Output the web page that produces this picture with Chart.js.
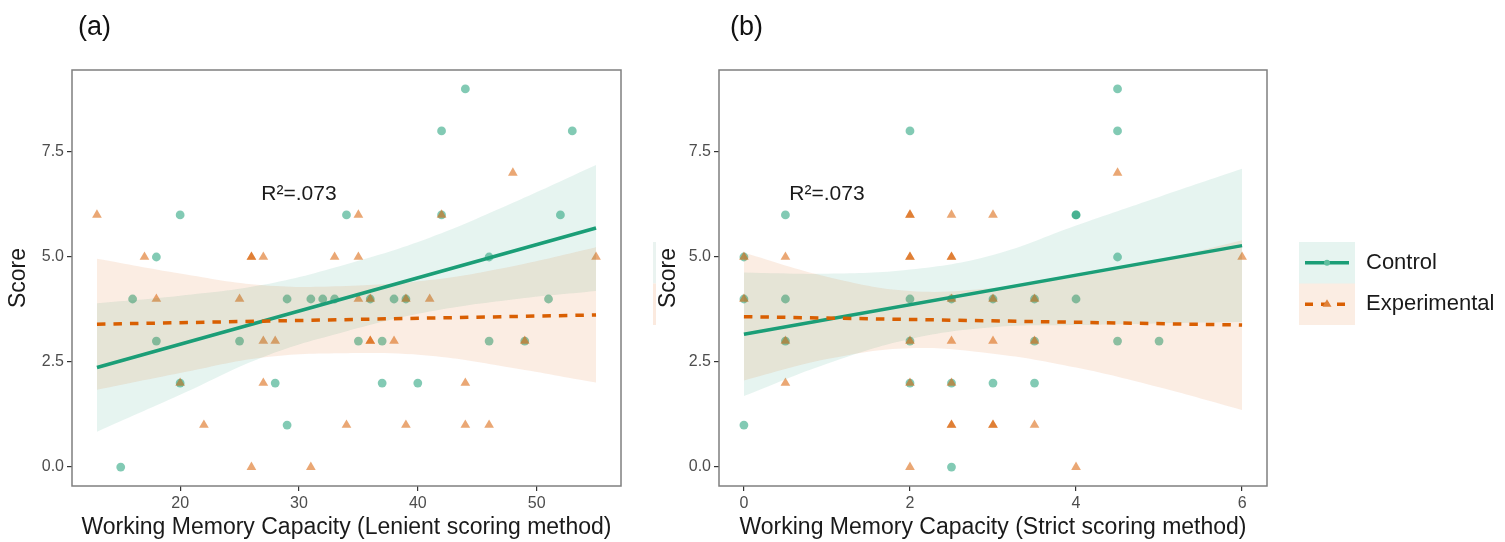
<!DOCTYPE html>
<html>
<head>
<meta charset="utf-8">
<title>Score by Working Memory Capacity</title>
<script src="https://cdn.jsdelivr.net/npm/chart.js@4.4.1/dist/chart.umd.min.js"></script>
<style>
  html, body { margin: 0; padding: 0; background: #fff; }
  #wrap { position: relative; width: 1505px; height: 542px; }
  #wrap canvas { position: absolute; top: 0; }
  #chart-a { left: 0; }
  #chart-b { left: 650px; }
</style>
</head>
<body>
<div id="wrap">
  <canvas id="chart-a" width="650" height="542"></canvas>
  <canvas id="chart-b" width="855" height="542"></canvas>
</div>
<script>
// Score vs working memory capacity, lenient (a) and strict (b) scoring

const groups = ['Control', 'Experimental'];
const scoreTicks = [0, 2.5, 5, 7.5];
const lenientTicks = [20, 30, 40, 50];
const strictTicks = [0, 2, 4, 6];
const r2Label = 'R\u00b2=.073';

// participants as [capacity, score]
const controlLenient = [
    [44, 9], [42, 8], [53, 8], [20, 6], [34, 6], [42, 6], [52, 6], [18, 5], [46, 5],
    [16, 4], [29, 4], [31, 4], [32, 4], [33, 4], [36, 4], [38, 4], [39, 4], [51, 4],
    [18, 3], [25, 3], [35, 3], [37, 3], [46, 3], [49, 3],
    [20, 2], [28, 2], [37, 2], [40, 2], [29, 1], [15, 0]
];
const experimentalLenient = [
    [48, 7], [13, 6], [35, 6], [42, 6],
    [17, 5], [26, 5], [26, 5], [27, 5], [33, 5], [35, 5], [55, 5],
    [18, 4], [25, 4], [35, 4], [36, 4], [39, 4], [41, 4],
    [27, 3], [28, 3], [36, 3], [36, 3], [38, 3], [49, 3],
    [20, 2], [27, 2], [44, 2],
    [22, 1], [34, 1], [39, 1], [44, 1], [46, 1], [26, 0], [31, 0]
];
const controlStrict = [
    [4.5, 9], [2, 8], [4.5, 8], [0.5, 6], [4, 6], [4, 6], [0, 5], [4.5, 5],
    [0, 4], [0.5, 4], [2, 4], [2.5, 4], [3, 4], [3.5, 4], [4, 4],
    [0.5, 3], [2, 3], [3.5, 3], [4.5, 3], [5, 3],
    [2, 2], [2.5, 2], [3, 2], [3.5, 2], [0, 1], [2.5, 0]
];
const experimentalStrict = [
    [4.5, 7], [2, 6], [2, 6], [2.5, 6], [3, 6],
    [0, 5], [0.5, 5], [2, 5], [2, 5], [2.5, 5], [2.5, 5], [6, 5],
    [0, 4], [2.5, 4], [3, 4], [3.5, 4],
    [0.5, 3], [2, 3], [2.5, 3], [3, 3], [3.5, 3],
    [0.5, 2], [2, 2], [2.5, 2],
    [2.5, 1], [2.5, 1], [3, 1], [3, 1], [3.5, 1], [2, 0], [4, 0]
];

// fitted lines (ends of the data range)
const lenientFitX = [13, 55];
const controlLenientFit = [2.37, 5.69];
const experimentalLenientFit = [3.40, 3.62];
const strictFitX = [0, 6];
const controlStrictFit = [3.16, 5.27];
const experimentalStrictFit = [3.58, 3.38];

// confidence bands around the fits
const lenientBandX = [13, 20, 27, 34, 41, 48, 55];
const controlLenientUpper = [3.90, 4.08, 4.34, 4.83, 5.46, 6.29, 7.19];
const controlLenientLower = [0.84, 1.72, 2.62, 3.23, 3.70, 3.99, 4.19];
const experimentalLenientUpper = [4.96, 4.61, 4.33, 4.31, 4.45, 4.78, 5.23];
const experimentalLenientLower = [1.84, 2.24, 2.61, 2.71, 2.65, 2.36, 2.01];
const strictBandX = [0, 1, 2, 3, 4, 5, 6];
const controlStrictUpper = [4.63, 4.60, 4.70, 5.05, 5.75, 6.43, 7.10];
const controlStrictLower = [1.69, 2.46, 3.05, 3.33, 3.38, 3.42, 3.45];
const experimentalStrictUpper = [5.10, 4.53, 4.19, 4.26, 4.53, 4.92, 5.40];
const experimentalStrictLower = [2.06, 2.57, 2.83, 2.70, 2.37, 1.90, 1.36];

const GREEN = '#1b9e77';
const ORANGE = '#d95f02';
const GREEN_PT = 'rgba(27, 158, 119, 0.55)';
const ORANGE_PT = 'rgba(217, 95, 2, 0.55)';
const GREEN_BAND = 'rgba(27, 158, 119, 0.11)';
const ORANGE_BAND = 'rgba(217, 95, 2, 0.11)';
const FONT = '"Liberation Sans", Arial, Helvetica, sans-serif';

Chart.defaults.font.family = FONT;

const toPoints = arr => arr.map(p => ({ x: p[0], y: p[1] }));
const zip = (xs, ys) => xs.map((x, i) => ({ x: x, y: ys[i] }));

function bandPair(xs, lower, upper, fillColor, order) {
    const base = {
        type: 'line', pointRadius: 0, borderWidth: 0,
        borderColor: 'rgba(0,0,0,0)', tension: 0.4, order: order
    };
    return [
        Object.assign({}, base, { data: zip(xs, lower), fill: false }),
        Object.assign({}, base, { data: zip(xs, upper), fill: '-1', backgroundColor: fillColor })
    ];
}

// panel frame, letter and R² note
const panelPlugin = {
    id: 'panelDecor',
    afterDraw(chart) {
        const opts = chart.options.plugins.panelDecor;
        const a = chart.chartArea;
        const ctx = chart.ctx;
        ctx.save();
        ctx.strokeStyle = '#7f7f7f';
        ctx.lineWidth = 1.5;
        ctx.strokeRect(a.left, a.top, a.right - a.left, a.bottom - a.top);

        ctx.fillStyle = '#111';
        ctx.textBaseline = 'middle';
        ctx.textAlign = 'left';
        ctx.font = '27px ' + FONT;
        ctx.fillText(opts.letter, opts.letterX, 28);

        ctx.textAlign = 'center';
        ctx.font = '21px ' + FONT;
        ctx.fillStyle = '#1a1a1a';
        ctx.fillText(r2Label, chart.scales.x.getPixelForValue(opts.noteX),
            chart.scales.y.getPixelForValue(opts.noteY));

        if (opts.legend) drawLegend(ctx, opts.legend);
        ctx.restore();
    }
};

function drawLegend(ctx, lg) {
    const x = lg.x, y = lg.y, w = 56, h = 41.5;
    // faint strip left of panel (b)
    ctx.fillStyle = '#eaf3f0';
    ctx.fillRect(3, y, 3, h);
    ctx.fillStyle = '#fbeadf';
    ctx.fillRect(3, y + h, 3, h);

    ctx.fillStyle = GREEN_BAND;
    ctx.fillRect(x, y, w, h);
    ctx.fillStyle = ORANGE_BAND;
    ctx.fillRect(x, y + h, w, h);

    const cy1 = y + h / 2, cy2 = y + h * 1.5;
    ctx.lineWidth = 3.5;
    ctx.strokeStyle = GREEN;
    ctx.beginPath();
    ctx.moveTo(x + 6, cy1); ctx.lineTo(x + w - 6, cy1);
    ctx.stroke();
    ctx.fillStyle = '#5fbf9f';
    ctx.beginPath();
    ctx.arc(x + w / 2, cy1, 3, 0, Math.PI * 2);
    ctx.fill();

    ctx.strokeStyle = ORANGE;
    ctx.setLineDash([8, 8]);
    ctx.beginPath();
    ctx.moveTo(x + 6, cy2); ctx.lineTo(x + w - 6, cy2);
    ctx.stroke();
    ctx.setLineDash([]);
    ctx.fillStyle = '#e0823a';
    ctx.beginPath();
    ctx.moveTo(x + w / 2, cy2 - 5);
    ctx.lineTo(x + w / 2 + 4.5, cy2 + 2.5);
    ctx.lineTo(x + w / 2 - 4.5, cy2 + 2.5);
    ctx.closePath();
    ctx.fill();

    ctx.fillStyle = '#1a1a1a';
    ctx.font = '22px ' + FONT;
    ctx.textAlign = 'left';
    ctx.textBaseline = 'middle';
    ctx.fillText(groups[0], x + w + 11, cy1);
    ctx.fillText(groups[1], x + w + 11, cy2);
}

function buildPanel(id, cfg) {
    const datasets = [
        { label: groups[0], data: toPoints(cfg.control), pointStyle: 'circle', pointRadius: 4.4,
          backgroundColor: GREEN_PT, borderWidth: 0, order: 6 },
        { label: groups[1], data: toPoints(cfg.experimental), pointStyle: 'triangle', pointRadius: 5.6,
          backgroundColor: ORANGE_PT, borderWidth: 0, order: 5 }
    ]
    .concat(bandPair(cfg.bandX, cfg.controlLower, cfg.controlUpper, GREEN_BAND, 4))
    .concat(bandPair(cfg.bandX, cfg.expLower, cfg.expUpper, ORANGE_BAND, 3))
    .concat([
        { type: 'line', data: zip(cfg.fitX, cfg.controlFit), borderColor: GREEN, borderWidth: 3.5,
          pointRadius: 0, fill: false, order: 2 },
        { type: 'line', data: zip(cfg.fitX, cfg.expFit), borderColor: ORANGE, borderWidth: 3.5,
          borderDash: [8.5, 8], pointRadius: 0, fill: false, order: 1 }
    ]);

    const tickGrid = { display: true, drawOnChartArea: false, drawTicks: true, tickLength: 5,
                       color: '#333', lineWidth: 1.2 };

    return new Chart(document.getElementById(id), {
        type: 'scatter',
        data: { datasets: datasets },
        plugins: [panelPlugin],
        options: {
            responsive: false,
            animation: false,
            devicePixelRatio: 1,
            layout: { padding: { top: 70, right: cfg.padRight, left: 0, bottom: 0 } },
            plugins: {
                legend: { display: false },
                tooltip: { enabled: false },
                panelDecor: cfg.decor
            },
            scales: {
                x: {
                    type: 'linear', min: cfg.xMin, max: cfg.xMax,
                    afterBuildTicks: s => { s.ticks = cfg.xTicks.map(v => ({ value: v })); },
                    afterFit: s => { s.height = 56; },
                    grid: tickGrid,
                    border: { display: false },
                    ticks: { color: '#4d4d4d', font: { size: 16 }, padding: 3,
                             maxRotation: 0, autoSkip: false },
                    title: { display: true, text: cfg.xTitle, color: '#1a1a1a',
                             font: { size: 23 }, padding: { top: 0, bottom: 1 } }
                },
                y: {
                    type: 'linear', min: -0.45, max: 9.45,
                    afterBuildTicks: s => { s.ticks = scoreTicks.map(v => ({ value: v })); },
                    afterFit: s => { s.width = cfg.yWidth; },
                    grid: tickGrid,
                    border: { display: false },
                    ticks: { color: '#4d4d4d', font: { size: 16 }, padding: 3,
                             callback: v => Number(v).toFixed(1) },
                    title: { display: true, text: 'Score', color: '#1a1a1a',
                             font: { size: 23 }, padding: { top: 5, bottom: 0 } }
                }
            }
        }
    });
}

document.addEventListener('DOMContentLoaded', function() {
    buildPanel('chart-a', {
        control: controlLenient, experimental: experimentalLenient,
        fitX: lenientFitX, controlFit: controlLenientFit, expFit: experimentalLenientFit,
        bandX: lenientBandX,
        controlUpper: controlLenientUpper, controlLower: controlLenientLower,
        expUpper: experimentalLenientUpper, expLower: experimentalLenientLower,
        xMin: 10.9, xMax: 57.1, xTicks: lenientTicks,
        xTitle: 'Working Memory Capacity (Lenient scoring method)',
        yWidth: 72, padRight: 29,
        decor: { letter: '(a)', letterX: 78, noteX: 30, noteY: 6.5 }
    });

    buildPanel('chart-b', {
        control: controlStrict, experimental: experimentalStrict,
        fitX: strictFitX, controlFit: controlStrictFit, expFit: experimentalStrictFit,
        bandX: strictBandX,
        controlUpper: controlStrictUpper, controlLower: controlStrictLower,
        expUpper: experimentalStrictUpper, expLower: experimentalStrictLower,
        xMin: -0.3, xMax: 6.3, xTicks: strictTicks,
        xTitle: 'Working Memory Capacity (Strict scoring method)',
        yWidth: 69, padRight: 238,
        decor: { letter: '(b)', letterX: 80, noteX: 1, noteY: 6.5,
                 legend: { x: 649, y: 242 } }
    });
});
</script>
</body>
</html>
